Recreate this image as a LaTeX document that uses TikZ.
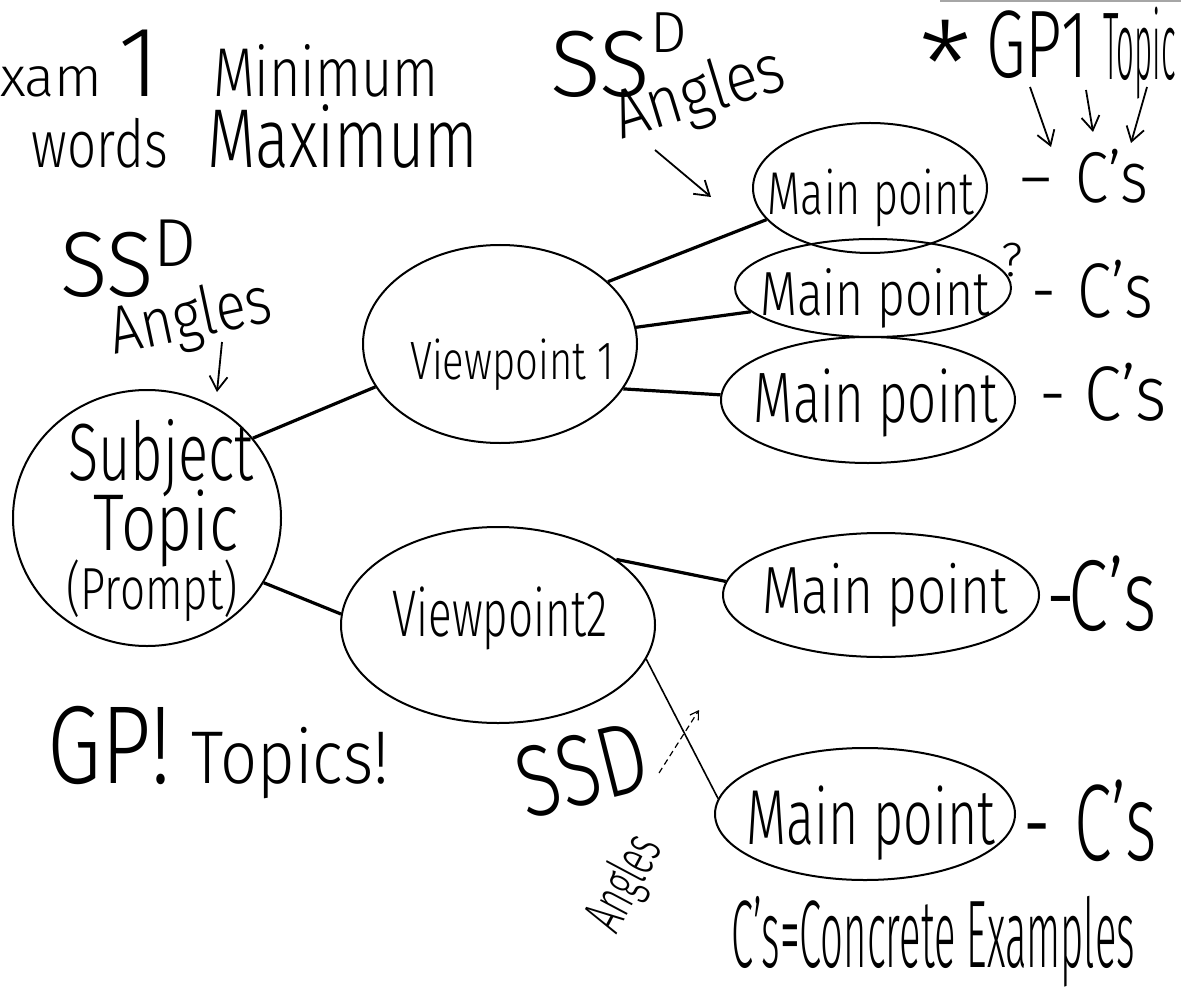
\documentclass[tikz,border=0pt]{standalone}
\usepackage{fontspec}
\setmainfont{Fira Sans}[UprightFont={* Light}]
\usepackage{graphicx}
\usetikzlibrary{shapes.geometric,arrows.meta}
\newcommand\hw[3]{{\fontsize{#1pt}{#1pt}\selectfont\scalebox{1}[#2]{#3}}}
\newcommand\hwx[4]{{\fontsize{#1pt}{#1pt}\selectfont\scalebox{#2}[#3]{#4}}}
\begin{document}
\begin{tikzpicture}[x=0.5pt,y=-0.5pt,
  bubble/.style={draw, ellipse, line width=1pt, inner sep=0pt},
  txt/.style={inner sep=0pt, outer sep=0pt},
  link/.style={line width=1.6pt},
  thinlink/.style={line width=0.8pt},
  pointer/.style={line width=0.9pt, -{Straight Barb[length=7pt, width=9pt]}},
  hint/.style={line width=0.6pt, densely dashed, -{Straight Barb[length=4pt, width=5pt]}},
]
\useasboundingbox (0,0) rectangle (1181,994);
\fill[white] (0,0) rectangle (1181,994);
\clip (0,0) rectangle (1181,994);

% bubbles
\node[bubble, minimum width=134pt, minimum height=128pt] (subj) at (147,518) {};
\node[bubble, minimum width=137pt, minimum height=99pt] (vp1) at (500,344) {};
\node[bubble, minimum width=157pt, minimum height=98pt] (vp2) at (498,625) {};
\node[bubble, minimum width=117pt, minimum height=65pt] (mp1) at (870,188) {};
\node[bubble, minimum width=138pt, minimum height=49pt] (mp2) at (873,288) {};
\node[bubble, minimum width=147pt, minimum height=63pt] (mp3) at (868,400) {};
\node[bubble, minimum width=158pt, minimum height=62pt] (mp4) at (881,595) {};
\node[bubble, minimum width=150pt, minimum height=66pt] (mp5) at (865,814) {};

% connectors
\draw[link] (subj.37) -- (vp1.199);
\draw[link] (subj.331) -- (vp2.176);
\draw[link] (vp1.30) -- (mp1.197);
\draw[link] (vp1.7) -- (mp2.191);
\draw[link] (vp1.340) -- (mp3.178);
\draw[link] (vp2.29) -- (mp4.175);
\draw[thinlink] (vp2.347) -- (mp5.174);

% header texts
\node[txt, anchor=base west] (exam) at (0,97) {\fontsize{28pt}{28pt}\selectfont xam {\fontsize{50pt}{50pt}\selectfont 1}};
\node[txt, anchor=base west] (minw) at (213,97) {\hw{27}{1.28}{Minimum}};
\node[txt, anchor=base west] (words) at (32,168) {\hw{25.5}{1.3}{words}};
\node[txt, anchor=base west] (maxw) at (207,168) {\hw{31.4}{1.33}{Maximum}};

% labels
\node[txt, anchor=base west] (ssdA) at (60,297) {\hw{44}{1.05}{SS}\raisebox{15pt}{\hw{34}{1}{D}}};
\node[txt, rotate=12] (angA) at (191,320) {\hw{28}{1.2}{Angles}};
\node[txt, anchor=base west] (ssdB) at (550,97) {\hw{47}{1}{SS}\raisebox{22pt}{\hw{29}{1}{D}}};
\node[txt, rotate=17] (angB) at (700,96) {\hw{30}{1.15}{Angles}};
\node[txt, anchor=north] (star) at (946,20) {\fontsize{60pt}{60pt}\selectfont *};
\node[txt, anchor=base west] (gp1) at (986,78) {\hw{32}{1.5}{GP1}};
\node[txt, anchor=base west] (topic) at (1103,80) {\hwx{26}{0.6}{1.85}{Topic}};
\node[txt, anchor=base west] (gpt) at (47,783) {\hw{43.7}{1.27}{GP!}\hspace{10pt}\hw{32.5}{1.15}{Topics!}};
\node[txt, rotate=14] (ssdC) at (582,770) {\hw{39}{1.3}{SSD}};
\node[txt, rotate=62] (angC) at (626,884) {\hw{17}{1.7}{Angles}};
\node[txt] (cdef) at (933,942) {\hw{20}{2.4}{C’s=Concrete Examples}};

% bubble texts
\node[txt] (subjT1) at (161,458) {\hw{28}{1.45}{Subject}};
\node[txt] (subjT2) at (166,528) {\hw{31}{1.3}{Topic}};
\node[txt] (subjT3) at (152,591) {\hw{22}{1.35}{(Prompt)}};
\node[txt] (vp1t) at (512,365) {\hw{20}{1.35}{Viewpoint 1}};
\node[txt] (vp2t) at (500,618) {\hw{22}{1.5}{Viewpoint2}};
\node[txt] (mp1t) at (871,198) {\hw{21.6}{1.4}{Main point}};
\node[txt] (mp2t) at (875,298) {\hw{24}{1.3}{Main point}};
\node[txt] (mp3t) at (876,403) {\hw{25.5}{1.4}{Main point}};
\node[txt] (mp4t) at (885,595) {\hw{25.7}{1.3}{Main point}};
\node[txt] (mp5t) at (871,823) {\hw{26}{1.5}{Main point}};
\node[txt] (q) at (1012,260) {\hw{24}{1}{?}};

% C's
\node[txt, anchor=base west] (c1) at (1020,203) {\hw{30}{1.2}{--\hspace{12pt}C’s}};
\node[txt, anchor=base west] (c2) at (1031,317) {\hw{31}{1.25}{-\hspace{11pt}C’s}};
\node[txt, anchor=base west] (c3) at (1039,420) {\hw{33.7}{1.15}{-\hspace{9pt}C’s}};
\node[txt, anchor=base west] (c4) at (1046,630) {\hw{36}{1.4}{-\hspace{-3pt}C’s}};
\node[txt, anchor=base west] (c5) at (1023,860) {\hw{34}{1.6}{-\hspace{12pt}C’s}};

% pointer arrows
\coordinate (p1s) at (222,342); \coordinate (p1e) at (217,392);
\coordinate (p2s) at (655,150); \coordinate (p2e) at (711,197);
\coordinate (p3s) at (1030,87); \coordinate (p3e) at (1051,147);
\coordinate (p4s) at (1086,90); \coordinate (p4e) at (1093,132);
\coordinate (p5s) at (1147,87); \coordinate (p5e) at (1131,143);
\coordinate (p6s) at (659,773); \coordinate (p6e) at (699,710);
\draw[pointer] (p1s) -- (p1e);
\draw[pointer] (p2s) -- (p2e);
\draw[pointer] (p3s) -- (p3e);
\draw[pointer] (p4s) -- (p4e);
\draw[pointer] (p5s) -- (p5e);
\draw[hint] (p6s) -- (p6e);

% paper edge
\coordinate (e1) at (940,1); \coordinate (e2) at (1181,1);
\draw[gray!70, line width=1pt] (e1) -- (e2);
\end{tikzpicture}
\end{document}
